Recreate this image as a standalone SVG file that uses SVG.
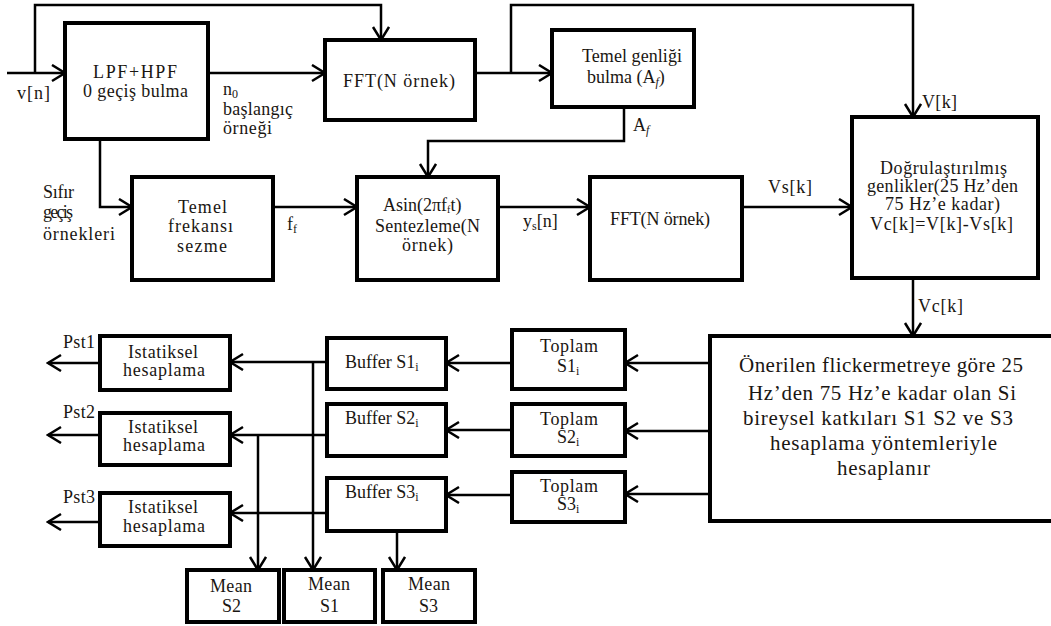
<svg xmlns="http://www.w3.org/2000/svg" width="1051" height="626" viewBox="0 0 1051 626">
<style>
.box{fill:#fff;stroke:#000;stroke-width:4}
.ln{fill:none;stroke:#000;stroke-width:2.5}
.ar{marker-end:url(#arr)}
text{font-family:"Liberation Serif","Times New Roman",serif;font-size:18px;fill:#1a1612}
.big{font-size:21px}
.sub{font-size:12px}
.sub2{font-size:10px}
</style>
<defs>
<marker id="arr" markerUnits="userSpaceOnUse" markerWidth="16" markerHeight="20" viewBox="0 0 16 20" refX="14" refY="9" orient="auto">
<path d="M1,1 L14,9 L1,17" fill="none" stroke="#000" stroke-width="2.5"/>
</marker>
</defs>
<rect width="1051" height="626" fill="#fff"/>

<g id="connectors">
<path class="ln ar" d="M7,73 H65"/>
<path class="ln ar" d="M35,73 V5 H381 V40"/>
<path class="ln ar" d="M208,73 H325"/>
<path class="ln ar" d="M100,139 V207 H132"/>
<path class="ln ar" d="M475,73 H552"/>
<path class="ln ar" d="M511,73 V5 H913 V117"/>
<path class="ln ar" d="M624,107 V141 H428 V177"/>
<path class="ln ar" d="M273,207 H357"/>
<path class="ln ar" d="M498,207 H590"/>
<path class="ln ar" d="M742,207 H852"/>
<path class="ln ar" d="M913,278 V336"/>
<path class="ln ar" d="M710,363 H625"/>
<path class="ln ar" d="M710,431 H625"/>
<path class="ln ar" d="M710,494 H625"/>
<path class="ln ar" d="M512,363 H446"/>
<path class="ln ar" d="M512,430 H446"/>
<path class="ln ar" d="M512,495 H446"/>
<path class="ln ar" d="M327,362 H230"/>
<path class="ln ar" d="M327,435 H230"/>
<path class="ln ar" d="M327,513 H230"/>
<path class="ln ar" d="M313,362 V570"/>
<path class="ln ar" d="M258,435 V570"/>
<path class="ln ar" d="M397,531 V570"/>
<path class="ln ar" d="M100,363 H48"/>
<path class="ln ar" d="M100,435 H48"/>
<path class="ln ar" d="M100,522 H48"/>
</g>

<g id="labels">
<text x="17" y="99" textLength="33">v[n]</text>
<text x="223" y="95">n<tspan class="sub" dy="3">0</tspan></text>
<text x="223" y="115" textLength="70">başlangıç</text>
<text x="223" y="134" textLength="49">örneği</text>
<text x="633" y="131">A<tspan class="sub" dy="3" font-style="italic">f</tspan></text>
<text x="922" y="108" textLength="35">V[k]</text>
<text x="43" y="198" textLength="31">Sıfır</text>
<text x="43" y="218" textLength="30">geçiş</text>
<text x="43" y="240" textLength="72">örnekleri</text>
<text x="287" y="230">f<tspan class="sub" dy="3">f</tspan></text>
<text x="523" y="227">y<tspan class="sub" dy="3">s</tspan><tspan dy="-3">[n]</tspan></text>
<text x="768" y="193" textLength="44">Vs[k]</text>
<text x="918" y="312" textLength="45">Vc[k]</text>
<text x="63" y="348" textLength="32">Pst1</text>
<text x="63" y="418" textLength="32">Pst2</text>
<text x="63" y="503" textLength="32">Pst3</text>
</g>

<g id="lpf">
<rect class="box" x="65" y="23" width="143" height="116"/>
<text x="93" y="78" textLength="84">LPF+HPF</text>
<text x="83" y="97" textLength="105">0 geçiş bulma</text>
</g>

<g id="fft1">
<rect class="box" x="325" y="40" width="150" height="80"/>
<text x="343" y="87" textLength="112">FFT(N örnek)</text>
</g>

<g id="temel-genlik">
<rect class="box" x="552" y="30" width="142" height="77"/>
<text x="582" y="62" textLength="100">Temel genliği</text>
<text x="587" y="83">bulma (A<tspan class="sub" dy="3" font-style="italic">f</tspan><tspan dy="-3">)</tspan></text>
</g>

<g id="temel-frekans">
<rect class="box" x="132" y="177" width="141" height="103"/>
<text x="178" y="213" textLength="49">Temel</text>
<text x="168" y="232" textLength="65">frekansı</text>
<text x="177" y="252" textLength="50">sezme</text>
</g>

<g id="asin">
<rect class="box" x="357" y="177" width="141" height="103"/>
<text x="383" y="211">Asin(2πf<tspan class="sub2" dy="2">f</tspan><tspan dy="-2">t)</tspan></text>
<text x="375" y="232" textLength="105">Sentezleme(N</text>
<text x="402" y="251" textLength="51">örnek)</text>
</g>

<g id="fft2">
<rect class="box" x="590" y="177" width="152" height="103"/>
<text x="610" y="225" textLength="100">FFT(N örnek)</text>
</g>

<g id="dogrulastirilmis">
<rect class="box" x="852" y="117" width="186" height="161"/>
<text x="880" y="174" textLength="127">Doğrulaştırılmış</text>
<text x="867" y="192" textLength="151">genlikler(25 Hz’den</text>
<text x="885" y="210" textLength="115">75 Hz’e kadar)</text>
<text x="870" y="230" textLength="143">Vc[k]=V[k]-Vs[k]</text>
</g>

<g id="onerilen">
<rect class="box" x="710" y="336" width="360" height="185"/>
<text class="big" x="739" y="372" textLength="284">Önerilen flickermetreye göre 25</text>
<text class="big" x="748" y="400" textLength="268">Hz’den 75 Hz’e kadar olan Si</text>
<text class="big" x="743" y="425" textLength="270">bireysel katkıları S1 S2 ve S3</text>
<text class="big" x="770" y="450" textLength="227">hesaplama yöntemleriyle</text>
<text class="big" x="837" y="475" textLength="93">hesaplanır</text>
</g>

<g id="toplam1">
<rect class="box" x="512" y="330" width="113" height="59"/>
<text x="540" y="352" textLength="58">Toplam</text>
<text x="557" y="372">S1<tspan class="sub" dy="3">i</tspan></text>
</g>
<g id="toplam2">
<rect class="box" x="512" y="404" width="113" height="52"/>
<text x="540" y="425" textLength="58">Toplam</text>
<text x="557" y="443">S2<tspan class="sub" dy="3">i</tspan></text>
</g>
<g id="toplam3">
<rect class="box" x="512" y="472" width="113" height="50"/>
<text x="540" y="492" textLength="58">Toplam</text>
<text x="557" y="510">S3<tspan class="sub" dy="3">i</tspan></text>
</g>

<g id="buffer1">
<rect class="box" x="327" y="338" width="119" height="51"/>
<text x="345" y="368">Buffer S1<tspan class="sub" dy="3">i</tspan></text>
</g>
<g id="buffer2">
<rect class="box" x="327" y="404" width="119" height="52"/>
<text x="345" y="424">Buffer S2<tspan class="sub" dy="3">i</tspan></text>
</g>
<g id="buffer3">
<rect class="box" x="327" y="478" width="119" height="53"/>
<text x="345" y="498">Buffer S3<tspan class="sub" dy="3">i</tspan></text>
</g>

<g id="istatiksel1">
<rect class="box" x="100" y="336" width="130" height="54"/>
<text x="128" y="358" textLength="70">Istatiksel</text>
<text x="123" y="376" textLength="82">hesaplama</text>
</g>
<g id="istatiksel2">
<rect class="box" x="100" y="413" width="130" height="52"/>
<text x="128" y="433" textLength="70">Istatiksel</text>
<text x="123" y="451" textLength="82">hesaplama</text>
</g>
<g id="istatiksel3">
<rect class="box" x="100" y="493" width="130" height="53"/>
<text x="128" y="513" textLength="70">Istatiksel</text>
<text x="123" y="532" textLength="82">hesaplama</text>
</g>

<g id="mean2">
<rect class="box" x="187" y="570" width="92" height="52"/>
<text x="210" y="592" textLength="42">Mean</text>
<text x="222" y="612">S2</text>
</g>
<g id="mean1">
<rect class="box" x="284" y="570" width="91" height="52"/>
<text x="308" y="590" textLength="42">Mean</text>
<text x="320" y="612">S1</text>
</g>
<g id="mean3">
<rect class="box" x="383" y="570" width="92" height="52"/>
<text x="408" y="590" textLength="42">Mean</text>
<text x="419" y="612">S3</text>
</g>
</svg>
